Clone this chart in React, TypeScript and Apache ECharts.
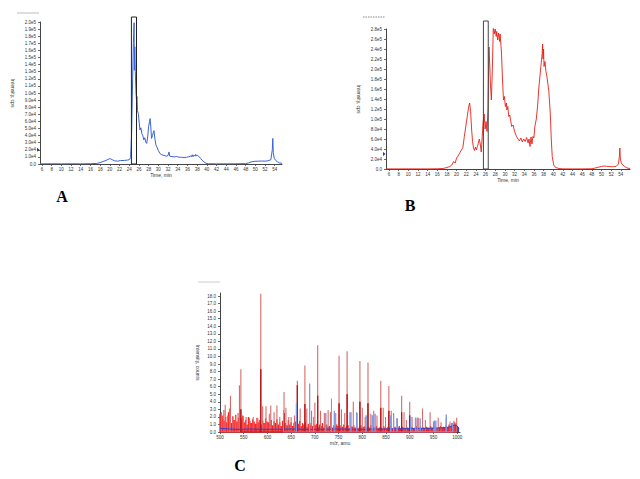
import React, { useEffect, useRef } from "react";
import * as echarts from "echarts";

// ---- Panel A: TIC (blue), time in min, intensity in units of 1e4 cps
const chromA: [number, number][] = [
  [5.6, 0.02], [8, 0.03], [10, 0.02], [12, 0.03], [14, 0.02], [16, 0.04], [17.3, 0.08], [18, 0.2],
  [18.6, 0.35], [19.2, 0.5], [19.8, 0.7], [20.1, 0.75], [20.5, 0.6], [21, 0.45], [21.6, 0.4],
  [22.2, 0.48], [23, 0.5], [23.6, 0.55], [24.0, 0.6], [24.3, 0.9], [24.5, 4.5], [24.7, 12],
  [24.85, 17], [25.0, 19.9], [25.05, 13.2], [25.15, 16.5], [25.25, 13], [25.4, 10], [25.5, 9],
  [25.6, 9.5], [25.7, 7.5], [25.9, 7], [26.0, 6.2], [26.2, 4.8], [26.4, 5.1], [26.6, 4.3],
  [26.8, 4.0], [27.0, 3.4], [27.2, 3.7], [27.4, 3.1], [27.6, 2.9], [27.8, 3.8], [28.0, 5.3],
  [28.2, 6.0], [28.3, 6.4], [28.45, 5.2], [28.6, 3.6], [28.8, 4.0], [29.0, 4.5], [29.1, 4.7],
  [29.3, 3.5], [29.5, 2.7], [29.7, 2.4], [30.0, 1.9], [30.3, 1.5], [30.7, 1.3], [31.2, 1.2],
  [31.7, 1.1], [32.0, 1.2], [32.2, 1.7], [32.35, 1.1], [32.8, 1.05], [33.3, 1.0], [33.8, 1.05],
  [34.3, 0.95], [34.8, 0.95], [35.3, 0.9], [35.8, 0.95], [36.2, 1.0], [36.6, 1.1], [36.8, 1.2],
  [36.9, 1.0], [37.1, 1.3], [37.2, 1.05], [37.4, 1.25], [37.6, 1.1], [37.7, 1.35], [37.85, 1.15],
  [38.0, 1.25], [38.3, 1.1], [38.7, 0.8], [39.0, 0.55], [39.4, 0.3], [39.8, 0.12], [40.3, 0.03],
  [42, 0.02], [44, 0.02], [46, 0.03], [48, 0.05], [48.6, 0.15], [49.2, 0.3], [49.9, 0.38],
  [50.6, 0.4], [51.3, 0.42], [52.0, 0.4], [52.6, 0.45], [53.2, 0.6], [53.5, 2.0], [53.6, 3.6],
  [53.7, 1.6], [53.9, 0.8], [54.2, 0.5], [54.6, 0.3], [55.0, 0.15], [55.5, 0.1],
];

// ---- Panel B: TIC (red), intensity in units of 1e4 cps
const chromB: [number, number][] = [
  [5.4, 0.02], [8, 0.02], [10, 0.03], [12, 0.02], [14, 0.02], [16, 0.05], [17.2, 0.1], [18, 0.3],
  [18.6, 0.5], [19.0, 0.8], [19.4, 1.5], [19.7, 1.2], [20.0, 2.2], [20.3, 2.6], [20.7, 3.3],
  [21.0, 3.8], [21.3, 4.3], [21.6, 6.5], [21.9, 8.5], [22.2, 10.5], [22.5, 12.5], [22.7, 13.2],
  [22.9, 11.5], [23.1, 8], [23.3, 5.5], [23.5, 4.2], [23.7, 3.7], [23.9, 4.4], [24.1, 3.8],
  [24.3, 4.5], [24.5, 5.2], [24.7, 6.0], [24.9, 5.0], [25.1, 3.4], [25.3, 6.5], [25.5, 9.5],
  [25.7, 11], [25.9, 8], [26.1, 9.5], [26.3, 7.5], [26.5, 12], [26.7, 24.4], [26.9, 20],
  [27.0, 17], [27.2, 13.8], [27.4, 20], [27.6, 28.5], [27.8, 27], [28.0, 28], [28.2, 26.5],
  [28.3, 27.5], [28.5, 25.8], [28.7, 27.2], [28.9, 25.5], [29.0, 27], [29.2, 24.5], [29.3, 23],
  [29.5, 18], [29.7, 13.8], [29.9, 14.5], [30.1, 12.5], [30.3, 13.2], [30.4, 11.8], [30.6, 12.5],
  [30.8, 10.5], [31.0, 10.8], [31.4, 8.5], [31.7, 8.8], [32.0, 7.5], [32.4, 6.5], [32.7, 6.0],
  [33.0, 5.6], [33.3, 6.2], [33.6, 5.4], [33.9, 6.0], [34.2, 5.5], [34.5, 6.3], [34.8, 5.2],
  [35.0, 6.0], [35.2, 4.5], [35.4, 6.4], [35.6, 5.0], [35.8, 6.5], [36.0, 6.2], [36.2, 8.5],
  [36.5, 10], [36.8, 13], [37.0, 16], [37.3, 19], [37.5, 21], [37.7, 23], [37.8, 25], [37.9, 22],
  [38.0, 24], [38.1, 20.5], [38.3, 21.5], [38.5, 19.5], [38.7, 18.5], [38.9, 17], [39.1, 15.5],
  [39.4, 11], [39.6, 6], [39.8, 2.5], [40.1, 0.8], [40.5, 0.3], [41.2, 0.1], [42, 0.03],
  [44, 0.02], [46, 0.02], [48, 0.05], [48.7, 0.2], [49.3, 0.35], [50.0, 0.5], [50.5, 0.6],
  [51.0, 0.55], [51.6, 0.5], [52.3, 0.45], [53.0, 0.5], [53.5, 1.0], [53.7, 2.5], [53.8, 4.2],
  [53.9, 2.0], [54.1, 1.2], [54.4, 0.8], [54.8, 0.5], [55.3, 0.2], [55.9, 0.1],
];

const timeTicks = [6, 8, 10, 12, 14, 16, 18, 20, 22, 24, 26, 28, 30, 32, 34, 36, 38, 40, 42, 44, 46, 48, 50, 52, 54];
const boxA = [24.45, 25.5];
const boxB = [25.55, 26.55];

// ---- Panel C: mass spectra (m/z, intensity in counts)
const mzTicks = [500, 550, 600, 650, 700, 750, 800, 850, 900, 950, 1000];
const countTicks = [0, 1, 2, 3, 4, 5, 6, 7, 8, 9, 10, 11, 12, 13, 14, 15, 16, 17, 18];

const grassStart = 500;
const grassStep = 3;
const redGrass = [
  2.4, 1.8, 2.2, 1.5, 2.0, 1.3, 2.6, 1.7, 1.2, 2.1, 1.6, 2.3, 1.4, 1.9, 1.1, 1.8, 2.2, 1.3, 1.6, 1.0,
  2.0, 1.5, 1.2, 1.7, 1.4, 1.1, 1.9, 1.3, 1.6, 1.0, 1.5, 1.2, 1.8, 1.4,
  1.3, 1.1, 1.6, 0.9, 1.4, 1.2, 1.7, 1.0, 1.3, 0.8, 1.5, 1.1, 1.2, 0.9, 1.6, 1.0, 1.3, 0.8, 1.2, 1.4,
  0.9, 1.1, 1.5, 0.8, 1.2, 1.0, 1.3, 0.7, 1.1, 0.9, 1.2, 0.8, 1.0,
  0.9, 1.1, 0.7, 1.0, 0.8, 1.2, 0.6, 0.9, 1.0, 0.7, 0.8, 1.1, 0.6, 0.9, 0.7, 1.0, 0.8, 0.6, 0.9, 0.7,
  1.0, 0.6, 0.8, 0.9, 0.5, 0.8, 0.7, 0.9, 0.6, 0.8, 0.5, 0.7, 0.9, 0.6,
  0.7, 0.8, 0.5, 0.7, 0.6, 0.9, 0.5, 0.7, 0.6, 0.8, 0.5, 0.6, 0.7, 0.5, 0.8, 0.6, 0.5, 0.7, 0.6, 0.8,
  0.5, 0.6, 0.7, 0.5, 0.6, 0.8, 0.5, 0.7, 0.6, 0.5, 0.7, 0.6, 0.5,
  0.6, 0.7, 0.5, 0.6, 0.8, 0.5, 0.6, 0.7, 0.5, 0.6, 0.5, 0.7, 0.6, 0.5, 0.8, 0.6, 0.5, 0.7, 0.6, 0.5,
  0.6, 0.8, 0.5, 0.7, 0.6, 0.9, 0.7, 1.0, 0.8, 1.2, 1.0, 1.3, 1.1,
];

const redPeaks: [number, number][] = [
  [503, 2.6], [508, 2.9], [511, 3.6], [516, 2.2], [520, 3.1], [522, 4.8], [527, 2.0], [533, 2.2],
  [538, 2.5], [541, 6.2], [544, 8.3], [549, 2.1], [555, 2.0], [562, 1.9], [570, 2.0], [580, 1.8],
  [586, 18.3], [590, 3.4], [597, 3.4], [604, 2.4], [607, 3.5], [614, 2.6], [620, 3.5], [626, 2.0],
  [635, 5.3], [639, 3.2], [645, 2.0], [650, 2.0], [657, 2.2], [663, 6.8], [669, 3.1], [679, 8.8],
  [683, 3.1], [693, 2.8], [700, 3.9], [706, 11.5], [712, 2.8], [720, 2.5], [728, 2.9], [733, 2.6],
  [744, 2.5], [751, 10.1], [756, 3.0], [763, 2.5], [768, 10.7], [774, 2.6], [781, 4.0], [789, 2.5],
  [795, 9.4], [800, 3.2], [806, 2.0], [812, 9.2], [818, 2.4], [824, 2.8], [831, 2.2], [839, 6.8],
  [844, 3.2], [849, 2.0], [856, 6.1], [861, 2.8], [866, 2.5], [874, 1.8], [883, 4.8], [888, 2.6],
  [893, 1.6], [900, 4.0], [905, 2.0], [913, 1.8], [918, 1.9], [927, 3.1], [933, 1.6], [943, 2.6],
  [950, 1.4], [960, 1.9], [966, 1.3], [977, 1.8], [985, 1.4], [993, 1.5], [999, 1.9],
];

const redCores: [number, number][] = [
  [544, 3.0], [586, 8.3], [635, 2.5], [663, 6.2], [679, 3.7], [706, 4.8], [751, 3.8], [768, 5.0],
  [795, 4.0], [812, 3.8], [839, 3.2], [856, 2.8], [883, 2.6], [900, 2.2],
];

const bluePeaks: [number, number][] = [
  [634, 2.9], [661, 3.8], [689, 6.4], [697, 2.0], [723, 2.5], [735, 4.4], [741, 2.8], [776, 2.6],
  [788, 2.6], [808, 2.2], [821, 2.2], [827, 2.4], [860, 2.2], [866, 2.2], [873, 1.8], [902, 2.0],
  [912, 1.9], [916, 1.9], [922, 1.8], [952, 1.5], [955, 1.5], [977, 2.3], [990, 1.2],
];

const blueBase: [number, number][] = [
  [500, 0.5], [520, 0.4], [540, 0.35], [560, 0.4], [600, 0.35], [650, 0.4], [700, 0.35], [750, 0.4],
  [800, 0.35], [850, 0.4], [900, 0.45], [950, 0.5], [980, 0.6], [995, 0.9], [1000, 0.8], [1004, 0.5],
];

const sticks = (pairs: [number, number][]) =>
  pairs.flatMap(([m, h]) => [[m, 0], [m, h], [m, 0]]);

const FONT = "Liberation Sans";

const sciFmt = (v: number) => (v === 0 ? "0.0" : v.toExponential(1).replace("e+", "e"));

function axisBase() {
  return {
    axisLine: { show: true, onZero: false, lineStyle: { color: "#444", width: 1 } },
    axisTick: { show: true, length: 2, lineStyle: { color: "#444", width: 0.8 } },
    splitLine: { show: false },
    nameTextStyle: { fontSize: 5, color: "#333", fontFamily: FONT },
  };
}

const labelStyle = { fontSize: 4.5, color: "#333", fontFamily: FONT };

export default function App() {
  const ref = useRef<HTMLDivElement>(null);
  useEffect(() => {
    if (!ref.current) return;
    const chart = echarts.init(ref.current, null, { renderer: "svg" });
    const option: any = {
      animation: false,
      backgroundColor: "#fff",
      grid: [
        { left: 40, top: 22, width: 242, height: 142 },
        { left: 386, top: 29, width: 244, height: 140 },
        { left: 220, top: 293, width: 240, height: 139 },
      ],
      xAxis: [
        {
          ...axisBase(), type: "value", gridIndex: 0, min: 5.6, max: 55.5,
          name: "Time, min", nameLocation: "middle", nameGap: 8,
          axisLabel: { ...labelStyle, margin: 3, customValues: timeTicks, formatter: (v: number) => String(v) },
          axisTick: { ...axisBase().axisTick, customValues: timeTicks },
        },
        {
          ...axisBase(), type: "value", gridIndex: 1, min: 5.38, max: 55.9,
          name: "Time, min", nameLocation: "middle", nameGap: 8,
          axisLabel: { ...labelStyle, margin: 3, customValues: timeTicks, formatter: (v: number) => String(v) },
          axisTick: { ...axisBase().axisTick, customValues: timeTicks },
        },
        {
          ...axisBase(), type: "value", gridIndex: 2, min: 500, max: 1006,
          name: "m/z, amu", nameLocation: "middle", nameGap: 8,
          axisLabel: { ...labelStyle, margin: 3, customValues: mzTicks, formatter: (v: number) => String(v) },
          axisTick: { ...axisBase().axisTick, customValues: mzTicks },
        },
      ],
      yAxis: [
        {
          ...axisBase(), type: "value", gridIndex: 0, min: 0, max: 200000, interval: 10000,
          name: "Intensity, cps", nameLocation: "middle", nameGap: 25, nameRotate: -90,
          axisLabel: { ...labelStyle, margin: 4, formatter: sciFmt },
        },
        {
          ...axisBase(), type: "value", gridIndex: 1, min: 0, max: 280000, interval: 20000,
          name: "Intensity, cps", nameLocation: "middle", nameGap: 25, nameRotate: -90,
          axisLabel: { ...labelStyle, margin: 4, formatter: sciFmt },
        },
        {
          ...axisBase(), type: "value", gridIndex: 2, min: 0, max: 18.4,
          name: "Intensity, counts", nameLocation: "middle", nameGap: 20, nameRotate: -90,
          axisLabel: { ...labelStyle, margin: 4, customValues: countTicks, formatter: (v: number) => v.toFixed(1) },
          axisTick: { ...axisBase().axisTick, customValues: countTicks },
        },
      ],
      series: [
        {
          type: "line", xAxisIndex: 0, yAxisIndex: 0, showSymbol: false, symbol: "none",
          data: chromA.map(([t, v]) => [t, v * 1e4]),
          lineStyle: { color: "#3a62d8", width: 1 },
        },
        {
          type: "line", xAxisIndex: 1, yAxisIndex: 1, showSymbol: false, symbol: "none",
          data: chromB.map(([t, v]) => [t, v * 1e4]),
          lineStyle: { color: "#e52019", width: 0.9 },
        },
        {
          type: "line", xAxisIndex: 2, yAxisIndex: 2, symbol: "none",
          data: sticks(redGrass.map((h, i) => [grassStart + i * grassStep, h] as [number, number])),
          lineStyle: { color: "#ff2020", width: 1.3 },
        },
        {
          type: "line", xAxisIndex: 2, yAxisIndex: 2, symbol: "none",
          data: sticks(redPeaks),
          lineStyle: { color: "#d86a6a", width: 1.1 },
        },
        {
          type: "line", xAxisIndex: 2, yAxisIndex: 2, symbol: "none",
          data: sticks(redCores),
          lineStyle: { color: "#b81414", width: 1 },
        },
        {
          type: "line", xAxisIndex: 2, yAxisIndex: 2, symbol: "none",
          data: blueBase,
          lineStyle: { color: "#3340cc", width: 1 },
          areaStyle: { color: "#3340cc", opacity: 1 },
        },
        {
          type: "line", xAxisIndex: 2, yAxisIndex: 2, symbol: "none",
          data: sticks(bluePeaks),
          lineStyle: { color: "#8396e2", width: 1 },
        },
      ],
    };
    chart.setOption(option);

    const px = (g: number, x: number, y: number) =>
      chart.convertToPixel({ gridIndex: g } as any, [x, y]) as number[];
    const boxRect = (g: number, box: number[], topVal: number, stroke: string) => {
      const a = px(g, box[0], topVal);
      const b = px(g, box[1], 0);
      return {
        type: "rect",
        shape: { x: a[0], y: a[1], width: b[0] - a[0], height: b[1] - a[1] },
        style: { fill: "none", stroke, lineWidth: 1 },
        z: 100,
      };
    };
    const marker = (g: number, xVal: number, yVal: number) => {
      const p = px(g, xVal, yVal);
      return {
        type: "polygon",
        shape: { points: [[p[0] - 3, p[1] - 2], [p[0] - 0.5, p[1]], [p[0] - 3, p[1] + 2]] },
        style: { fill: "#25309a" },
        z: 100,
      };
    };
    const graphics: any[] = [
      boxRect(0, boxA, 207000, "#222"),
      boxRect(1, boxB, 296000, "#444"),
      marker(0, 5.6, 20000),
      marker(1, 5.38, 30000),
      { type: "line", shape: { x1: 17, y1: 13, x2: 39, y2: 13 }, style: { stroke: "#bbbbbb", lineWidth: 1 } },
      { type: "line", shape: { x1: 363, y1: 17, x2: 385, y2: 17 }, style: { stroke: "#555", lineWidth: 0.7, lineDash: [1.5, 1] } },
      { type: "line", shape: { x1: 198, y1: 282, x2: 220, y2: 282 }, style: { stroke: "#cccccc", lineWidth: 1 } },
      { type: "text", x: 62, y: 196, style: { text: "A", font: "bold 16px 'Liberation Serif'", fill: "#000", align: "center", verticalAlign: "middle" } },
      { type: "text", x: 410, y: 205, style: { text: "B", font: "bold 16px 'Liberation Serif'", fill: "#000", align: "center", verticalAlign: "middle" } },
      { type: "text", x: 240, y: 465, style: { text: "C", font: "bold 16px 'Liberation Serif'", fill: "#000", align: "center", verticalAlign: "middle" } },
    ];
    chart.setOption({ graphic: graphics });
    return () => chart.dispose();
  }, []);
  return (
    <div
      ref={ref}
      style={{ position: "fixed", left: 0, top: 0, width: 640, height: 479, background: "#fff" }}
    />
  );
}
